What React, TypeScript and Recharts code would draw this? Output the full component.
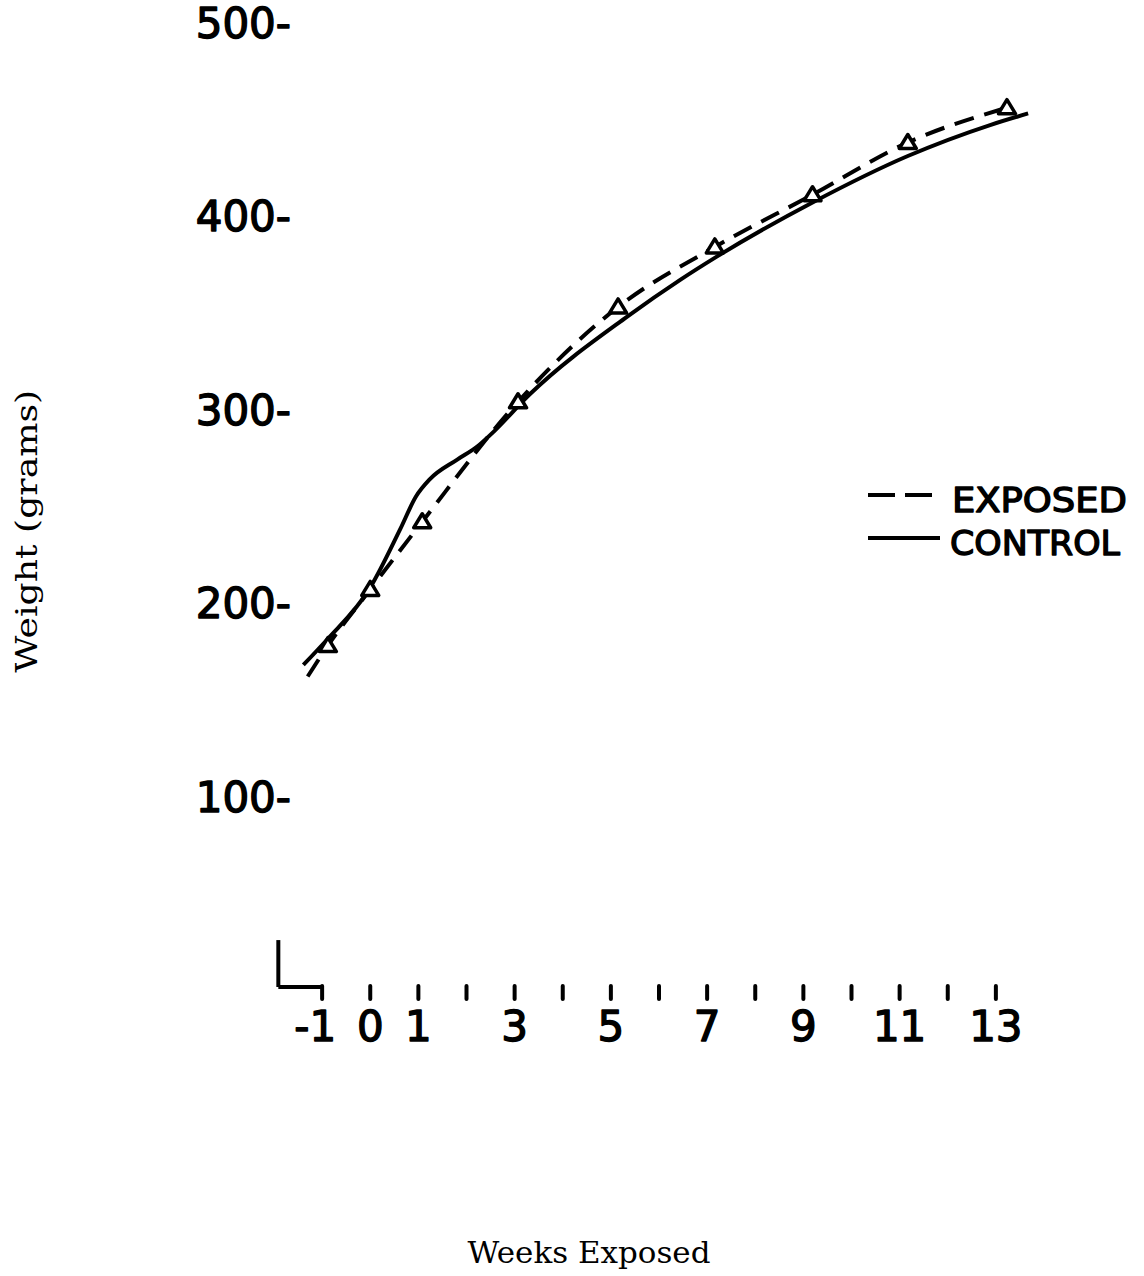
import { LineChart, Line, XAxis, YAxis, ReferenceLine, Legend, Label } from 'recharts';

// Axis ticks
const WEEK_TICKS = [-1, 0, 1, 2, 3, 4, 5, 6, 7, 8, 9, 10, 11, 12, 13];
const LABELED_WEEKS = [-1, 0, 1, 3, 5, 7, 9, 11, 13];
const WEIGHT_TICKS = [100, 200, 300, 400, 500];

// Exposed group: first point is where the dashed trace starts, the rest carry triangles
const EXPOSED_WEEKS = [-1.3, -0.88, 0.0, 1.08, 3.07, 5.15, 7.16, 9.19, 11.17, 13.23];
const EXPOSED_WEIGHTS = [162, 178, 207, 242, 304, 353, 384, 411, 438, 456];
const EXPOSED_MARKERS = [false, true, true, true, true, true, true, true, true, true];

// Control group (solid trace)
const CONTROL_WEEKS = [-1.39, -0.9, 0, 0.62, 0.95, 1.24, 1.8, 2.23, 2.5, 3.32, 5.34, 6.44, 7.2, 9.19, 11.17, 12.88, 13.67];
const CONTROL_WEIGHTS = [168, 181, 208, 238, 255, 264, 274, 281, 287, 308, 348, 367, 379, 407, 431, 447, 453];

// The little "L" at the origin (week, grams)
const CORNER_WEEK = -1.91;
const CORNER_TOP = 25.8;
const CORNER_BASE = 1.55;

const exposedData = EXPOSED_WEEKS.map((week, i) => ({
    week,
    weight: EXPOSED_WEIGHTS[i],
    marker: EXPOSED_MARKERS[i],
}));
const controlData = CONTROL_WEEKS.map((week, i) => ({ week, weight: CONTROL_WEIGHTS[i] }));

const INK = '#000';
const LETTERING = '"DejaVu Sans", sans-serif';
const CAPTION = '"DejaVu Serif", serif';

// hand-lettered look: regular weight thickened with an outline
const lettering = {
    fontFamily: LETTERING,
    fill: INK,
    stroke: INK,
    strokeWidth: 1.4,
    strokeLinejoin: 'round' as const,
};

function WeekTick({ x, y, payload }: any) {
    const v = payload.value;
    const labeled = LABELED_WEEKS.includes(v);
    return (
        <g>
            <line x1={x} x2={x} y1={y - 4} y2={y + 9} stroke={INK} strokeWidth={4} strokeLinecap="round" />
            {labeled && (
                <text
                    x={v < 0 ? x + 14 : x}
                    y={y + 51}
                    textAnchor={v < 0 ? 'end' : 'middle'}
                    fontSize={42}
                    {...lettering}
                >
                    {v}
                </text>
            )}
        </g>
    );
}

function WeightTick({ x, y, payload }: any) {
    return (
        <text x={x + 17} y={y + 15} textAnchor="end" fontSize={42} {...lettering}>
            {`${payload.value}-`}
        </text>
    );
}

function renderTriangle(props: any) {
    const { cx, cy, payload, index } = props;
    if (!payload.marker) return <g key={`t-${index}`} />;
    return (
        <path
            key={`t-${index}`}
            d={`M${cx},${cy - 8} L${cx + 8.5},${cy + 6} L${cx - 8.5},${cy + 6} Z`}
            fill="#fff"
            stroke={INK}
            strokeWidth={3.5}
            strokeLinejoin="round"
        />
    );
}

function GroupLegend() {
    return (
        <svg width={284} height={100}>
            <line x1={8} x2={73} y1={25} y2={25} stroke={INK} strokeWidth={4} strokeDasharray="27 10" />
            <text x={92} y={42} fontSize={34} textLength={175} lengthAdjust="spacingAndGlyphs" {...lettering}>
                EXPOSED
            </text>
            <line x1={8} x2={80} y1={68} y2={68} stroke={INK} strokeWidth={4} />
            <text x={90} y={85} fontSize={34} textLength={170} lengthAdjust="spacingAndGlyphs" {...lettering}>
                CONTROL
            </text>
        </svg>
    );
}

export default function App() {
    return (
        <div style={{ position: 'absolute', left: 0, top: 0, width: 1144, height: 1276, background: '#fff' }}>
            <LineChart width={1144} height={1276} margin={{ top: 22.5, right: 100, bottom: 226, left: 0 }}>
                <XAxis
                    type="number"
                    dataKey="week"
                    domain={[-2, 14]}
                    ticks={WEEK_TICKS}
                    interval={0}
                    tick={<WeekTick />}
                    tickLine={false}
                    axisLine={false}
                    tickSize={0}
                    tickMargin={0}
                    height={60}
                >
                    <Label
                        content={({ viewBox }: any) => (
                            <text
                                x={viewBox.x + 315}
                                y={viewBox.y + 273}
                                textAnchor="middle"
                                fontFamily={CAPTION}
                                fontSize={29}
                                textLength={243}
                                lengthAdjust="spacingAndGlyphs"
                                fill={INK}
                            >
                                Weeks Exposed
                            </text>
                        )}
                    />
                </XAxis>
                <YAxis
                    type="number"
                    domain={[0, 500]}
                    ticks={WEIGHT_TICKS}
                    interval={0}
                    width={274}
                    tick={<WeightTick />}
                    tickLine={false}
                    axisLine={false}
                    tickSize={0}
                    tickMargin={0}
                >
                    <Label
                        content={({ viewBox }: any) => {
                            const cx = viewBox.x + 37;
                            const cy = viewBox.y + viewBox.height / 2 + 25;
                            return (
                                <text
                                    x={cx}
                                    y={cy}
                                    transform={`rotate(-90, ${cx}, ${cy})`}
                                    textAnchor="middle"
                                    fontFamily={CAPTION}
                                    fontSize={30}
                                    textLength={283}
                                    lengthAdjust="spacingAndGlyphs"
                                    fill={INK}
                                >
                                    Weight (grams)
                                </text>
                            );
                        }}
                    />
                </YAxis>
                <ReferenceLine
                    segment={[{ x: CORNER_WEEK, y: CORNER_TOP }, { x: CORNER_WEEK, y: CORNER_BASE }]}
                    stroke={INK}
                    strokeWidth={4}
                    ifOverflow="visible"
                />
                <ReferenceLine
                    segment={[{ x: CORNER_WEEK, y: CORNER_BASE }, { x: -1, y: CORNER_BASE }]}
                    stroke={INK}
                    strokeWidth={4}
                    ifOverflow="visible"
                />
                <Legend
                    layout="horizontal"
                    verticalAlign="middle"
                    align="center"
                    content={() => <GroupLegend />}
                    wrapperStyle={{ left: 860, top: 470, width: 284, height: 100 }}
                />
                <Line
                    data={controlData}
                    dataKey="weight"
                    name="CONTROL"
                    type="monotone"
                    stroke={INK}
                    strokeWidth={4}
                    dot={false}
                    activeDot={false}
                    isAnimationActive={false}
                />
                <Line
                    data={exposedData}
                    dataKey="weight"
                    name="EXPOSED"
                    type="monotone"
                    stroke={INK}
                    strokeWidth={4}
                    strokeDasharray="20 11"
                    dot={renderTriangle}
                    activeDot={false}
                    isAnimationActive={false}
                />
            </LineChart>
        </div>
    );
}
